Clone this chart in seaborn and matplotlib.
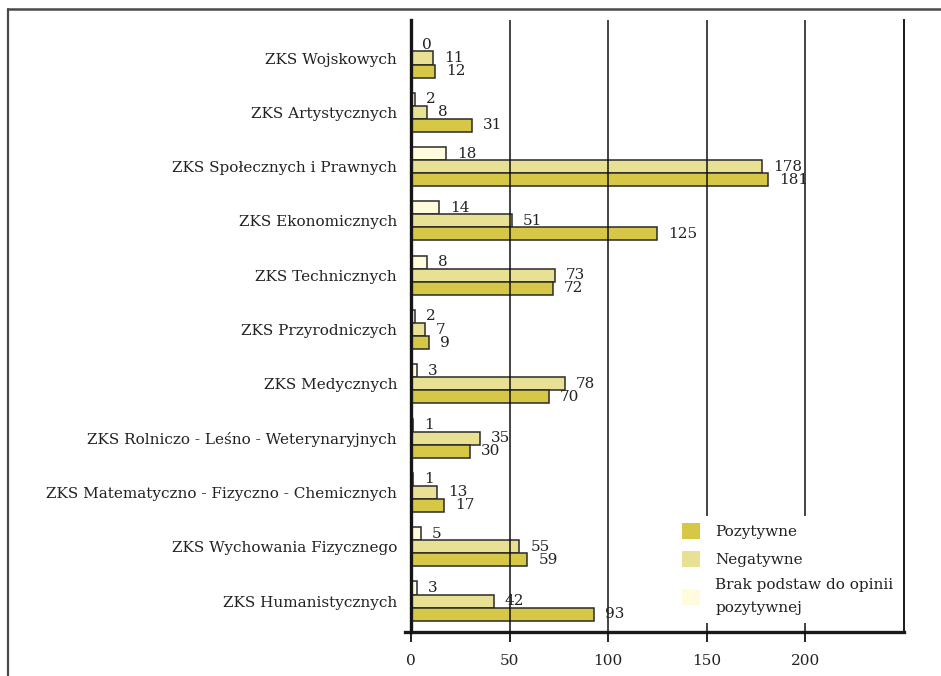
import matplotlib
matplotlib.use("Agg")
import matplotlib.pyplot as plt
from matplotlib.patches import Patch
from matplotlib.lines import Line2D
import seaborn as sns
import pandas as pd

categories = [
    "ZKS Wojskowych",
    "ZKS Artystycznych",
    "ZKS Społecznych i Prawnych",
    "ZKS Ekonomicznych",
    "ZKS Technicznych",
    "ZKS Przyrodniczych",
    "ZKS Medycznych",
    "ZKS Rolniczo - Leśno - Weterynaryjnych",
    "ZKS Matematyczno - Fizyczno - Chemicznych",
    "ZKS Wychowania Fizycznego",
    "ZKS Humanistycznych",
]
brak = [0, 2, 18, 14, 8, 2, 3, 1, 1, 5, 3]
negatywne = [11, 8, 178, 51, 73, 7, 78, 35, 13, 55, 42]
pozytywne = [12, 31, 181, 125, 72, 9, 70, 30, 17, 59, 93]
series_names = ["Pozytywne", "Negatywne", "Brak podstaw do opinii\npozytywnej"]
x_ticks = [0, 50, 100, 150, 200]

colors = {
    series_names[0]: "#D6C846",
    series_names[1]: "#E8E092",
    series_names[2]: "#FFFBDC",
}

rows = []
for c, b, n, p in zip(categories, brak, negatywne, pozytywne):
    rows.append((c, series_names[2], b))
    rows.append((c, series_names[1], n))
    rows.append((c, series_names[0], p))
df = pd.DataFrame(rows, columns=["kat", "seria", "wartosc"])

sns.set_theme(style="white")
plt.rcParams["font.family"] = ["DejaVu Serif", "DejaVu Sans"]

fig = plt.figure(figsize=(9.41, 6.76), dpi=100)
ax = fig.add_axes([405 / 941, 1 - 632 / 676, (904 - 405) / 941, (632 - 20) / 676])

hue_order = [series_names[2], series_names[1], series_names[0]]
sns.barplot(
    data=df, y="kat", x="wartosc", hue="seria", hue_order=hue_order,
    order=categories, orient="h", palette=colors, width=0.72, saturation=1,
    edgecolor="#2a2a2a", linewidth=1.1, legend=False, ax=ax,
)

for cont in ax.containers:
    ax.bar_label(cont, fmt="%d", padding=8, fontsize=11, color="#222222")

ax.set_xlim(-3, 250)
ax.set_ylim(10.57, -0.7)
ax.set_xticks(x_ticks)
ax.set_xticklabels([str(t) for t in x_ticks])
ax.set_xlabel("")
ax.set_ylabel("")

ax.xaxis.grid(True, color="#111111", linewidth=1.1)
ax.yaxis.grid(False)
ax.set_axisbelow(False)

ax.spines["top"].set_visible(False)
ax.spines["left"].set_position(("data", 0))
ax.spines["left"].set_linewidth(2.4)
ax.spines["left"].set_color("#1a1a1a")
ax.spines["bottom"].set_linewidth(2.4)
ax.spines["bottom"].set_color("#1a1a1a")
ax.spines["right"].set_linewidth(1.4)
ax.spines["right"].set_color("#1a1a1a")

ax.tick_params(axis="x", direction="out", length=7, width=1.3, color="#111111",
               pad=9, labelsize=11, labelcolor="#222222", bottom=True)
ax.tick_params(axis="y", length=0, pad=10, labelsize=11, labelcolor="#222222")

handles = [Patch(facecolor=colors[n], edgecolor="none", label=n) for n in series_names]
leg = ax.legend(
    handles=handles, loc="lower right", bbox_to_anchor=(1.0, 0.01),
    frameon=True, facecolor="white", edgecolor="none", framealpha=1.0,
    fontsize=11, handlelength=1.2, handleheight=1.2, labelspacing=0.75,
    handletextpad=1.0, borderpad=0.5, borderaxespad=0.2,
)
for t in leg.get_texts():
    t.set_linespacing(1.8)
    t.set_color("#222222")
leg.set_zorder(5)

fig.add_artist(Line2D([8 / 941, 1.0], [1 - 9 / 676, 1 - 9 / 676], color="#4a4a4a", linewidth=1.8))
fig.add_artist(Line2D([8 / 941, 8 / 941], [0.0, 1 - 9 / 676], color="#4a4a4a", linewidth=1.6))

fig.savefig("out.png", dpi=100, facecolor="white")
